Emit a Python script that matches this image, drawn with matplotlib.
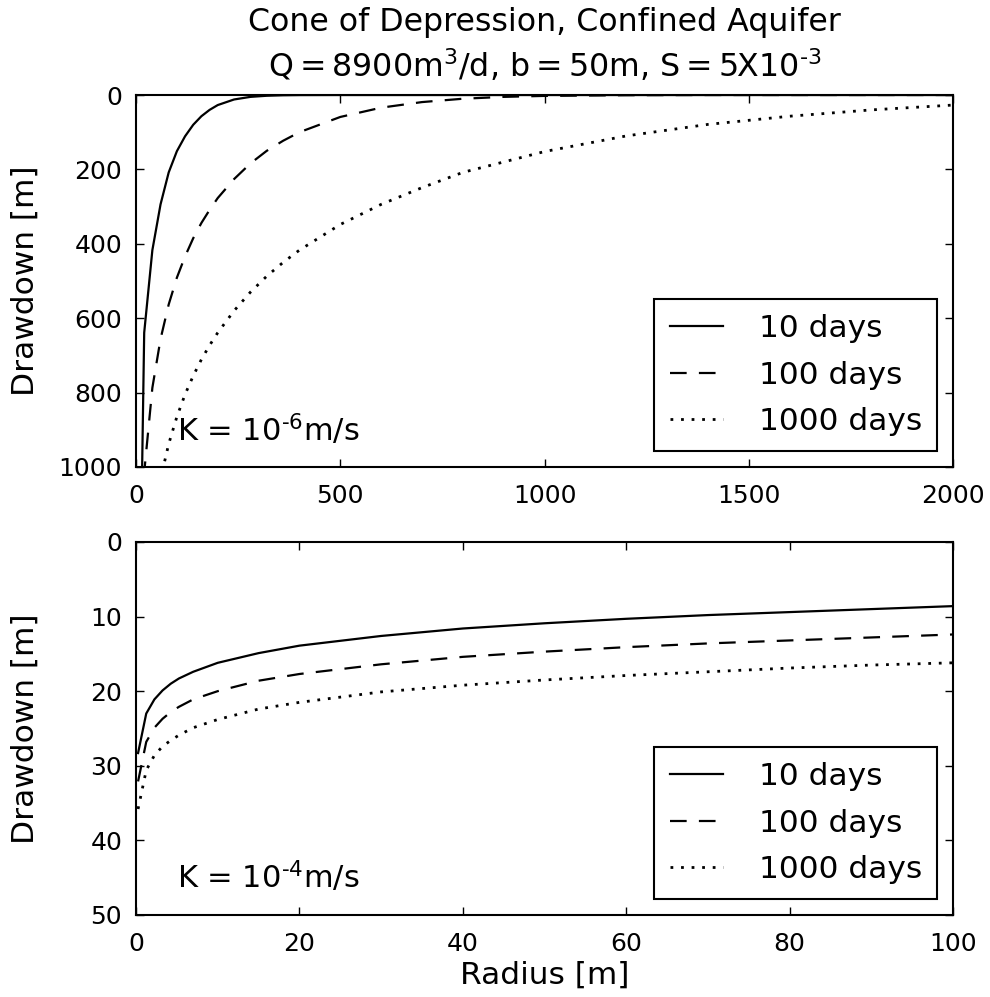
import matplotlib
matplotlib.use('Agg')
import matplotlib.pyplot as plt

plt.rcParams['font.family'] = ['DejaVu Sans']
plt.rcParams['mathtext.default'] = 'regular'

# drawdown for K = 1e-6 m/s
r_top = [1, 20, 40, 60, 80, 100, 120, 140, 160, 180, 200, 240, 280, 320, 360,
         400, 500, 600, 700, 800, 900, 1000, 1200, 1400, 1600, 1800, 2000]
s_top_10 = [2000, 639, 417, 294, 208, 151, 111, 80, 57, 40, 27, 12, 5, 2, 0.7,
            0.2, 0, 0, 0, 0, 0, 0, 0, 0, 0, 0, 0]
s_top_100 = [3000, 1015, 787, 656, 563, 491, 434, 385, 344, 309, 277, 226, 184, 150, 123,
             100, 59, 34, 19, 10, 5, 2.4, 0.5, 0, 0, 0, 0]
s_top_1000 = [3500, 1392, 1164, 1032, 938, 865, 805, 755, 711, 673, 639, 580, 530, 487, 450,
              417, 348, 294, 249, 208, 180, 152, 110, 79, 57, 40, 27]

# drawdown for K = 1e-4 m/s
r_bot = [0.25, 1.25, 2.25, 3.25, 4.25, 5.25, 7, 10, 15, 20, 30, 40, 50, 60, 70, 80, 90, 100]
s_bot_10 = [28.3, 23.0, 21.1, 19.9, 19.0, 18.3, 17.4, 16.2, 14.9, 13.9, 12.6, 11.6,
            10.9, 10.3, 9.8, 9.4, 9.0, 8.6]
s_bot_100 = [32.1, 26.8, 24.9, 23.7, 22.8, 22.1, 21.1, 20.0, 18.6, 17.7, 16.4, 15.4,
             14.7, 14.1, 13.6, 13.2, 12.8, 12.4]
s_bot_1000 = [35.8, 30.6, 28.6, 27.4, 26.6, 25.9, 24.9, 23.8, 22.4, 21.5, 20.1, 19.2,
              18.5, 17.9, 17.4, 16.9, 16.5, 16.2]

labels = ['10 days', '100 days', '1000 days']

fig = plt.figure(figsize=(9.9, 9.97), dpi=100)
ax1 = fig.add_axes([0.1374, 0.5316, 0.8253, 0.3731])
ax2 = fig.add_axes([0.1374, 0.0823, 0.8253, 0.3741])

def style(ax, curves, r, txt, tx, ty):
    ax.plot(r, curves[0], 'k-', lw=1.6, label=labels[0])
    ax.plot(r, curves[1], 'k--', lw=1.6, dashes=(7.5, 5.5), label=labels[1])
    ax.plot(r, curves[2], 'k:', lw=2, dashes=(1, 2.8), label=labels[2])
    ax.text(tx, ty, txt, fontsize=22)
    ax.tick_params(direction='in', top=True, right=True, length=6, width=1,
                   labelsize=18)
    ax.tick_params(axis='x', pad=12)
    ax.tick_params(axis='y', pad=10)
    for sp in ax.spines.values():
        sp.set_linewidth(1.5)
    ax.set_ylabel('Drawdown [m]', fontsize=22.5)
    ax.yaxis.set_label_coords(-0.118, 0.5)
    leg = ax.legend(loc='lower right', fontsize=22.5, fancybox=False, framealpha=1,
                    edgecolor='k', handlelength=1.7, handletextpad=1.15,
                    labelspacing=0.55, borderpad=0.5, borderaxespad=0.5)
    leg.get_frame().set_linewidth(1.5)

style(ax1, [s_top_10, s_top_100, s_top_1000], r_top,
      r'K = 10$^{\text{-}6}$m/s', 100, 930)
ax1.set_xlim(0, 2000)
ax1.set_ylim(1000, 0)
ax1.set_xticks([0, 500, 1000, 1500, 2000])
ax1.set_yticks([0, 200, 400, 600, 800, 1000])
ax1.set_title('Cone of Depression, Confined Aquifer\n'
              r'$Q = 8900m^3/d$, $b = 50m$, $S = 5X10^{\text{-}3}$',
              fontsize=22.8, pad=13, linespacing=1.3)

style(ax2, [s_bot_10, s_bot_100, s_bot_1000], r_bot,
      r'K = 10$^{\text{-}4}$m/s', 5, 46.5)
ax2.set_xlim(0, 100)
ax2.set_ylim(50, 0)
ax2.set_xticks([0, 20, 40, 60, 80, 100])
ax2.set_yticks([0, 10, 20, 30, 40, 50])
ax2.set_xlabel('Radius [m]', fontsize=22.5, labelpad=4)

fig.savefig('out.png', dpi=100)
